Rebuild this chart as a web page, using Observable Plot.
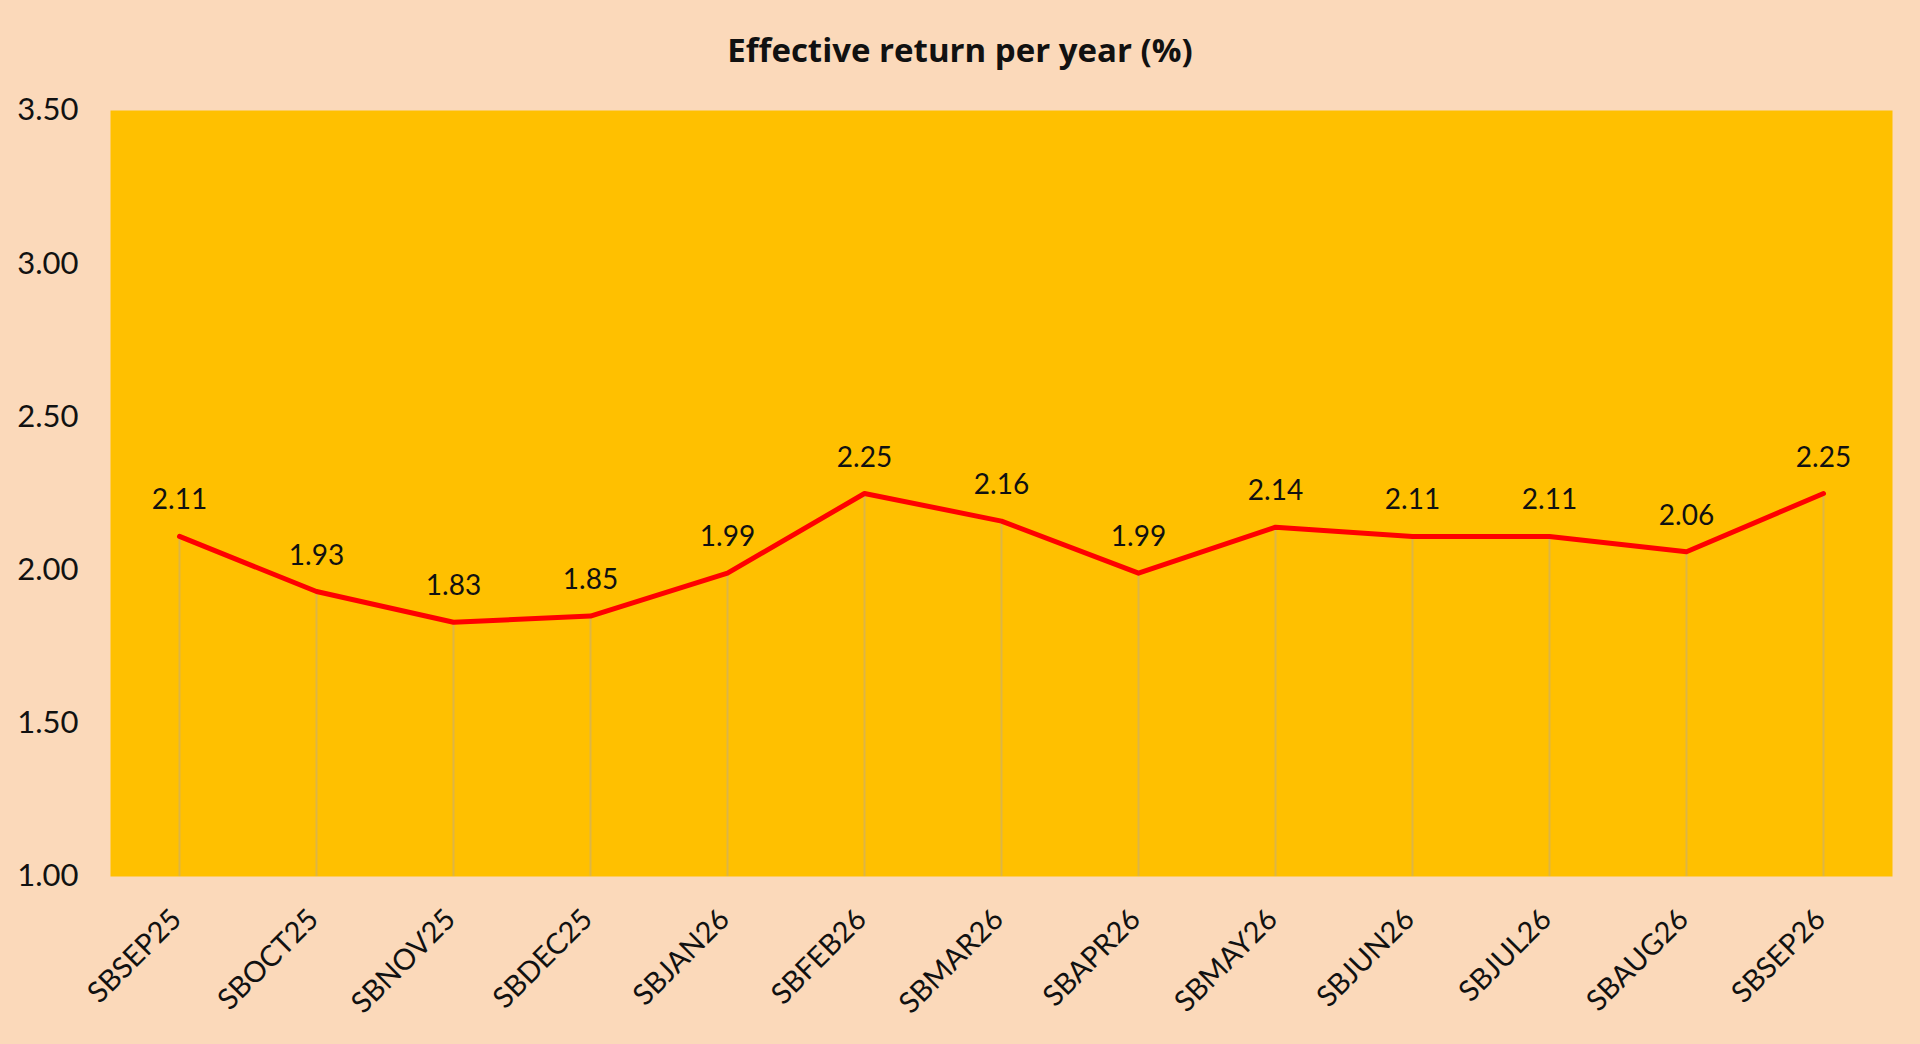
<!DOCTYPE html>
<html>
<head>
<meta charset="utf-8">
<script src="https://cdn.jsdelivr.net/npm/d3@7"></script>
<script src="https://cdn.jsdelivr.net/npm/@observablehq/plot@0.6"></script>
<style>
  html, body { margin: 0; padding: 0; background: #FBD9BA; }
  #title { height: 90px; line-height: 100px; text-align: center; font-family: "Open Sans", Lato, sans-serif; font-weight: bold; font-size: 33px; color: #111; }
  #chart svg { display: block; }
</style>
</head>
<body>
<div id="title">Effective return per year (%)</div>
<div id="chart"></div>
<script>
const categories = ["SBSEP25","SBOCT25","SBNOV25","SBDEC25","SBJAN26","SBFEB26","SBMAR26","SBAPR26","SBMAY26","SBJUN26","SBJUL26","SBAUG26","SBSEP26"];
const returns = [2.11, 1.93, 1.83, 1.85, 1.99, 2.25, 2.16, 1.99, 2.14, 2.11, 2.11, 2.06, 2.25];
const yTicks = [1.00, 1.50, 2.00, 2.50, 3.00, 3.50];

const data = categories.map((c, i) => ({series: c, value: returns[i]}));
const font = "Lato, 'Open Sans', sans-serif";

const chart = Plot.plot({
  width: 1920,
  height: 954,
  marginTop: 20,
  marginBottom: 168,
  marginLeft: 110,
  marginRight: 28,
  style: {fontFamily: font, fontSize: "28px", color: "#111", background: "transparent", overflow: "visible"},
  x: {type: "point", domain: categories, padding: 0.5, label: null},
  y: {domain: [yTicks[0], yTicks[yTicks.length - 1]], label: null},
  marks: [
    Plot.frame({fill: "#FFC000", stroke: null}),
    Plot.ruleX(data, {x: "series", y1: yTicks[0], y2: "value", stroke: "#DDB545", strokeWidth: 2}),
    Plot.line(data, {x: "series", y: "value", stroke: "#FF0000", strokeWidth: 5, strokeLinejoin: "round", strokeLinecap: "round"}),
    Plot.text(data, {x: "series", y: "value", text: d => d.value.toFixed(2), lineAnchor: "bottom", dy: -27, fontSize: 28, fill: "#111"}),
    Plot.axisY({ticks: yTicks, tickFormat: d => d.toFixed(2), tickSize: 0, tickPadding: 32, fontSize: 31, label: null}),
    Plot.axisX({tickRotate: -45, tickSize: 0, tickPadding: 38, textAnchor: "end", lineAnchor: "middle", fontSize: 29, label: null, dx: -3})
  ]
});
document.getElementById("chart").appendChild(chart);
</script>
</body>
</html>
